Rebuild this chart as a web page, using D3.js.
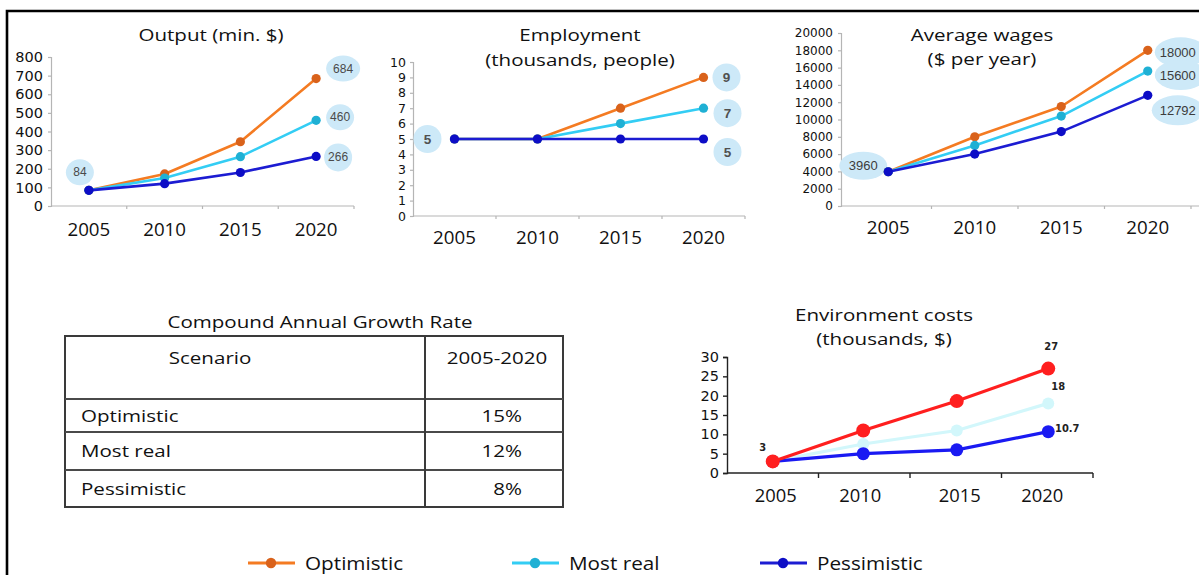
<!DOCTYPE html>
<html>
<head>
<meta charset="utf-8">
<script src="https://cdn.jsdelivr.net/npm/d3@7"></script>
<style>
  html, body { margin: 0; padding: 0; background: #fff; }
  svg { display: block; }
</style>
</head>
<body>
<svg id="chart" width="1199" height="575"></svg>
<script>
// ---- data ----
const years = ["2005", "2010", "2015", "2020"];
const scenarios = ["Optimistic", "Most real", "Pessimistic"];

const outputOptimistic = [84, 172, 345, 684];
const outputMostReal = [84, 150, 265, 460];
const outputPessimistic = [84, 120, 180, 266];
const outputTicks = [0, 100, 200, 300, 400, 500, 600, 700, 800];

const employmentOptimistic = [5, 5, 7, 9];
const employmentMostReal = [5, 5, 6, 7];
const employmentPessimistic = [5, 5, 5, 5];
const employmentTicks = [0, 1, 2, 3, 4, 5, 6, 7, 8, 9, 10];

const wagesOptimistic = [3960, 8000, 11500, 18000];
const wagesMostReal = [3960, 7000, 10400, 15600];
const wagesPessimistic = [3960, 6000, 8600, 12792];
const wagesTicks = [0, 2000, 4000, 6000, 8000, 10000, 12000, 14000, 16000, 18000, 20000];

const envOptimistic = [3, 11, 18.6, 27];
const envMostReal = [3, 7.5, 11, 18];
const envPessimistic = [3, 5, 6, 10.7];
const envTicks = [0, 5, 10, 15, 20, 25, 30];

const cagrScenarios = ["Optimistic", "Most real", "Pessimistic"];
const cagrValues = ["15%", "12%", "8%"];

// ---- styles ----
const TITLE_FONT = "'Open Sans', 'Noto Sans', sans-serif";
const NUM_FONT = "'DejaVu Sans', sans-serif";
const LABEL_FONT = "'Liberation Sans', Arial, sans-serif";
const WIDE = 1.21;   // horizontal stretch of the title and table lettering
const palette = {
  "Optimistic": { line: "#f47b22", dot: "#d9621b" },
  "Most real": { line: "#33cdf4", dot: "#1fb0d4" },
  "Pessimistic": { line: "#1c1cd2", dot: "#0d0dc6" }
};
const envPalette = {
  "Optimistic": "#ff1f1f",
  "Most real": "#d2f7fb",
  "Pessimistic": "#1a1af2"
};
const BUBBLE = "#cde9f8";

const svg = d3.select("#chart");

// text helper: places a string at (x, y) with an optional horizontal stretch
function addText(parent, x, y, str, o) {
  return parent.append("text")
    .attr("transform", `translate(${x},${y}) scale(${o.sx || 1},1)`)
    .attr("text-anchor", o.anchor || "middle")
    .attr("dominant-baseline", "central")
    .attr("font-family", o.font || TITLE_FONT)
    .attr("font-size", o.size || 17)
    .attr("font-weight", o.weight || "normal")
    .attr("fill", o.fill || "#111")
    .text(str);
}

// outer frame (open on the right and bottom)
svg.append("path")
  .attr("d", "M7,580 L7,11 L1205,11")
  .attr("fill", "none").attr("stroke", "#000").attr("stroke-width", 2.6);

// ---- generic line panel ----
function linePanel(cfg) {
  const g = svg.append("g");
  const x = d3.scaleBand().domain(years).range([cfg.bandStart, cfg.bandEnd]);
  const y = d3.scaleLinear().domain(cfg.yDomain).range([cfg.yBottom, cfg.yTop]);
  const cx = d => x(d) + x.bandwidth() / 2;

  // y axis
  const yAxis = g.append("g")
    .attr("transform", `translate(${cfg.axisX},0)`)
    .call(d3.axisLeft(y).tickValues(cfg.ticks).tickSize(cfg.yTickSize)
      .tickPadding(cfg.yTickPad).tickFormat(d3.format("d")));
  yAxis.select(".domain").attr("stroke", cfg.axisColor).attr("stroke-width", cfg.axisWidth);
  yAxis.selectAll(".tick line").attr("stroke", cfg.axisColor).attr("stroke-width", cfg.axisWidth);
  yAxis.selectAll(".tick text")
    .attr("font-family", cfg.yFont).attr("font-size", cfg.yFontSize).attr("fill", "#111");

  // x axis: baseline, boundary ticks and centred year labels
  g.append("line")
    .attr("x1", cfg.axisX).attr("x2", cfg.axisEnd)
    .attr("y1", y(0)).attr("y2", y(0))
    .attr("stroke", cfg.axisColor).attr("stroke-width", cfg.axisWidth);
  g.selectAll(".xtick").data(years).enter().append("line")
    .attr("x1", d => x(d) + x.bandwidth()).attr("x2", d => x(d) + x.bandwidth())
    .attr("y1", y(0)).attr("y2", y(0) + cfg.xTickSize)
    .attr("stroke", cfg.axisColor).attr("stroke-width", cfg.axisWidth);
  years.forEach(d => addText(g, cx(d), cfg.xLabelY, d, { size: cfg.xFontSize, sx: 1.04 }));

  // title lines
  cfg.title.forEach((t, i) =>
    addText(g, cfg.titleX, cfg.titleY + i * cfg.titleGap, t, { size: cfg.titleSize, sx: WIDE }));

  // label bubbles drawn beneath the lines
  const bubbleLayer = g.append("g");

  // series lines and markers
  const line = d3.line().x((d, i) => cx(years[i])).y(d => y(d));
  cfg.series.forEach(s => {
    g.append("path").datum(s.values)
      .attr("d", line).attr("fill", "none")
      .attr("stroke", s.line).attr("stroke-width", cfg.lineWidth)
      .attr("stroke-linejoin", "round");
    g.selectAll(null).data(s.values).enter().append("circle")
      .attr("cx", (d, i) => cx(years[i])).attr("cy", d => y(d))
      .attr("r", cfg.dotR).attr("fill", s.dot);
  });

  // value labels
  (cfg.labels || []).forEach(l => {
    const px = cx(years[l.i]) + l.dx;
    const py = y(l.value) + l.dy;
    if (l.rx) {
      bubbleLayer.append("ellipse")
        .attr("cx", px + (l.bx || 0)).attr("cy", py + (l.by || 0))
        .attr("rx", l.rx).attr("ry", l.ry).attr("fill", BUBBLE);
    }
    addText(g, px, py, l.text, {
      font: cfg.labelFont, size: cfg.labelSize, weight: cfg.labelWeight, fill: cfg.labelColor
    });
  });
  return { x, y };
}

function series3(a, b, c) {
  return [
    { values: a, line: palette["Optimistic"].line, dot: palette["Optimistic"].dot },
    { values: b, line: palette["Most real"].line, dot: palette["Most real"].dot },
    { values: c, line: palette["Pessimistic"].line, dot: palette["Pessimistic"].dot }
  ];
}

// ---- Output ----
linePanel({
  bandStart: 51, bandEnd: 354, axisX: 51, axisEnd: 354,
  yDomain: [0, 800], yTop: 57, yBottom: 206, ticks: outputTicks,
  yTickSize: 3, yTickPad: 5, yFont: NUM_FONT, yFontSize: 14.5,
  axisColor: "#b5b5b5", axisWidth: 1.2, xTickSize: 3,
  xLabelY: 229, xFontSize: 18,
  title: ["Output (min. $)"], titleX: 211, titleY: 35, titleGap: 24, titleSize: 17,
  lineWidth: 2.6, dotR: 4.6,
  series: series3(outputOptimistic, outputMostReal, outputPessimistic),
  labelFont: LABEL_FONT, labelSize: 12, labelColor: "#4a4a4a",
  labels: [
    { i: 0, value: outputOptimistic[0], text: String(outputOptimistic[0]), dx: -9, dy: -18, rx: 14, ry: 13 },
    { i: 3, value: outputOptimistic[3], text: String(outputOptimistic[3]), dx: 27, dy: -10, rx: 17, ry: 13 },
    { i: 3, value: outputMostReal[3], text: String(outputMostReal[3]), dx: 24, dy: -3, rx: 14, ry: 13 },
    { i: 3, value: outputPessimistic[3], text: String(outputPessimistic[3]), dx: 22, dy: 1, rx: 14, ry: 14 }
  ]
});

// ---- Employment ----
linePanel({
  bandStart: 413, bandEnd: 745, axisX: 413, axisEnd: 745,
  yDomain: [0, 10], yTop: 62, yBottom: 216, ticks: employmentTicks,
  yTickSize: 3, yTickPad: 4, yFont: NUM_FONT, yFontSize: 12.5,
  axisColor: "#b5b5b5", axisWidth: 1.2, xTickSize: 3,
  xLabelY: 237, xFontSize: 18,
  title: ["Employment", "(thousands, people)"], titleX: 580, titleY: 35, titleGap: 25, titleSize: 17,
  lineWidth: 2.6, dotR: 4.6,
  series: series3(employmentOptimistic, employmentMostReal, employmentPessimistic),
  labelFont: LABEL_FONT, labelSize: 13.5, labelColor: "#505050", labelWeight: "bold",
  labels: [
    { i: 0, value: employmentOptimistic[0], text: String(employmentOptimistic[0]), dx: -27, dy: 0, rx: 14, ry: 14 },
    { i: 3, value: employmentOptimistic[3], text: String(employmentOptimistic[3]), dx: 23, dy: 0, rx: 14, ry: 14 },
    { i: 3, value: employmentMostReal[3], text: String(employmentMostReal[3]), dx: 24, dy: 5, rx: 14, ry: 14 },
    { i: 3, value: employmentPessimistic[3], text: String(employmentPessimistic[3]), dx: 24, dy: 13, rx: 14, ry: 14 }
  ]
});

// ---- Average wages ----
linePanel({
  bandStart: 845, bandEnd: 1191, axisX: 841, axisEnd: 1199,
  yDomain: [0, 20000], yTop: 33, yBottom: 206, ticks: wagesTicks,
  yTickSize: 3, yTickPad: 5, yFont: NUM_FONT, yFontSize: 12,
  axisColor: "#b5b5b5", axisWidth: 1.2, xTickSize: 3,
  xLabelY: 227, xFontSize: 18,
  title: ["Average wages", "($ per year)"], titleX: 982, titleY: 35, titleGap: 24, titleSize: 17,
  lineWidth: 2.6, dotR: 4.6,
  series: series3(wagesOptimistic, wagesMostReal, wagesPessimistic),
  labelFont: LABEL_FONT, labelSize: 13, labelColor: "#3c3c3c",
  labels: [
    { i: 0, value: wagesPessimistic[0], text: String(wagesPessimistic[0]), dx: -25, dy: -6, rx: 24, ry: 14 },
    { i: 3, value: wagesOptimistic[3], text: String(wagesOptimistic[3]), dx: 30, dy: 2, rx: 26, ry: 15, bx: 3 },
    { i: 3, value: wagesMostReal[3], text: String(wagesMostReal[3]), dx: 30, dy: 4, rx: 26, ry: 15, bx: 3 },
    { i: 3, value: wagesPessimistic[3], text: String(wagesPessimistic[3]), dx: 30, dy: 15, rx: 26, ry: 15 }
  ]
});

// ---- Environment costs ----
(function () {
  const g = svg.append("g");
  const x = d3.scaleBand().domain(years).range([727, 1093]);
  const y = d3.scaleLinear().domain([0, 30]).range([473, 357]);
  const cx = d => x(d) + x.bandwidth() / 2;
  const shift = [0, -1, 1, 1];
  const px = i => cx(years[i]) + shift[i];

  const yAxis = g.append("g").attr("transform", "translate(727,0)")
    .call(d3.axisLeft(y).tickValues(envTicks).tickSize(4).tickPadding(4));
  yAxis.select(".domain").attr("stroke", "#222").attr("stroke-width", 1.4);
  yAxis.selectAll(".tick line").attr("stroke", "#222").attr("stroke-width", 1.4);
  yAxis.selectAll(".tick text").attr("font-family", NUM_FONT).attr("font-size", 14.5).attr("fill", "#111");

  g.append("line").attr("x1", 727).attr("x2", 1093).attr("y1", y(0)).attr("y2", y(0))
    .attr("stroke", "#222").attr("stroke-width", 1.4);
  g.selectAll(".xt").data(years).enter().append("line")
    .attr("x1", d => x(d) + x.bandwidth()).attr("x2", d => x(d) + x.bandwidth())
    .attr("y1", y(0)).attr("y2", y(0) + 5)
    .attr("stroke", "#222").attr("stroke-width", 1.4);
  const labelShift = [3, -3, 3, -6];
  years.forEach((d, i) => addText(g, px(i) + labelShift[i], 495, d, { size: 18, sx: 1.02 }));

  ["Environment costs", "(thousands, $)"].forEach((t, i) =>
    addText(g, 884, 315 + i * 24, t, { size: 17, sx: WIDE }));

  const line = d3.line().x((d, i) => px(i)).y(d => y(d));
  const envSeries = [
    { name: "Most real", values: envMostReal, r: 6 },
    { name: "Pessimistic", values: envPessimistic, r: 6.5 },
    { name: "Optimistic", values: envOptimistic, r: 7 }
  ];
  envSeries.forEach(s => {
    g.append("path").datum(s.values).attr("d", line).attr("fill", "none")
      .attr("stroke", envPalette[s.name]).attr("stroke-width", 3.2);
    g.selectAll(null).data(s.values).enter().append("circle")
      .attr("cx", (d, i) => px(i)).attr("cy", d => y(d))
      .attr("r", s.r).attr("fill", envPalette[s.name]);
  });

  const envLabels = [
    { i: 0, value: envOptimistic[0], text: String(envOptimistic[0]), dx: -10, dy: -14 },
    { i: 3, value: envOptimistic[3], text: String(envOptimistic[3]), dx: 3, dy: -22 },
    { i: 3, value: envMostReal[3], text: String(envMostReal[3]), dx: 10, dy: -17 },
    { i: 3, value: envPessimistic[3], text: String(envPessimistic[3]), dx: 19, dy: -3 }
  ];
  envLabels.forEach(l =>
    addText(g, px(l.i) + l.dx, y(l.value) + l.dy, l.text, {
      font: "'DejaVu Sans Condensed', 'DejaVu Sans', sans-serif",
      weight: "bold", size: 11, fill: "#222"
    }));
})();

// ---- CAGR table ----
(function () {
  const g = svg.append("g");
  const left = 65, right = 563, divider = 425;
  const rowEdges = [336, 399, 432, 470, 507];
  addText(g, 320, 322, "Compound Annual Growth Rate", { size: 17, sx: WIDE });

  g.append("rect").attr("x", left).attr("y", rowEdges[0])
    .attr("width", right - left).attr("height", rowEdges[4] - rowEdges[0])
    .attr("fill", "none").attr("stroke", "#3a3a3a").attr("stroke-width", 2);
  rowEdges.slice(1, 4).forEach(yy => {
    g.append("line").attr("x1", left).attr("x2", right).attr("y1", yy).attr("y2", yy)
      .attr("stroke", "#4a4a4a").attr("stroke-width", 2);
  });
  g.append("line").attr("x1", divider).attr("x2", divider)
    .attr("y1", rowEdges[0]).attr("y2", rowEdges[4])
    .attr("stroke", "#3a3a3a").attr("stroke-width", 2);

  addText(g, 210, 358, "Scenario", { size: 17, sx: WIDE });
  addText(g, 497, 358, "2005-2020", { size: 17, sx: WIDE });
  cagrScenarios.forEach((s, i) => {
    const mid = (rowEdges[i + 1] + rowEdges[i + 2]) / 2;
    addText(g, 81, mid, s, { size: 17, sx: WIDE, anchor: "start" });
    addText(g, 522, mid, cagrValues[i], { size: 17, sx: WIDE, anchor: "end" });
  });
})();

// ---- legend ----
(function () {
  const g = svg.append("g");
  const starts = [248, 512, 760];
  scenarios.forEach((s, i) => {
    const x0 = starts[i];
    g.append("line").attr("x1", x0).attr("x2", x0 + 47).attr("y1", 563).attr("y2", 563)
      .attr("stroke", palette[s].line).attr("stroke-width", 3);
    g.append("circle").attr("cx", x0 + 23).attr("cy", 563).attr("r", 5.2).attr("fill", palette[s].dot);
    addText(g, x0 + 57, 563, s, { size: 19, sx: 1.09, anchor: "start" });
  });
})();
</script>
</body>
</html>
